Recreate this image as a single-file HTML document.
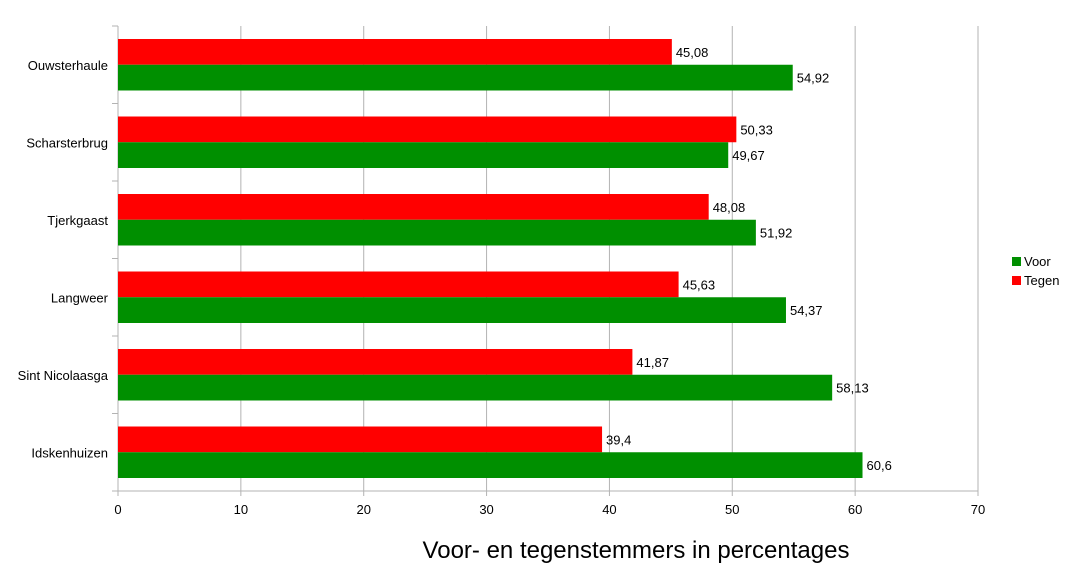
<!DOCTYPE html>
<html><head><meta charset="utf-8"><style>
html,body{margin:0;padding:0;background:#fff;}
svg{display:block;font-family:"Liberation Sans",sans-serif;}
</style></head><body>
<svg id="chart" width="1073" height="582"></svg>
<script>
const categories=["Ouwsterhaule","Scharsterbrug","Tjerkgaast","Langweer","Sint Nicolaasga","Idskenhuizen"];
const voor=[54.92,49.67,51.92,54.37,58.13,60.6];
const tegen=[45.08,50.33,48.08,45.63,41.87,39.4];
const ticks=[0,10,20,30,40,50,60,70];
const NS="http://www.w3.org/2000/svg";
const svg=document.getElementById('chart');
const X0=118,X1=978,Y0=26,Y1=491,XMAX=70;
const xs=v=>X0+(v/XMAX)*(X1-X0);
const band=(Y1-Y0)/categories.length;
function mk(t,a,p){const e=document.createElementNS(NS,t);for(const k in a)e.setAttribute(k,a[k]);(p||svg).appendChild(e);return e;}
const fmt=v=>String(v).replace('.',',');
// gridlines
ticks.forEach(t=>{
  const g=mk('line',{x1:xs(t),x2:xs(t),y1:Y0,y2:Y1+5,stroke:'#b3b3b3','stroke-width':1});
  
  
  const l=mk('text',{x:xs(t),y:Y1+23,'text-anchor':'middle','font-size':13,fill:'#000'});
  l.textContent=t;
  
  
});
mk('line',{x1:X0-5,x2:X1,y1:Y1,y2:Y1,stroke:'#b3b3b3'});
mk('line',{x1:X0,x2:X0,y1:Y0,y2:Y1,stroke:'#b3b3b3'});
for(let i=0;i<=categories.length;i++){
  mk('line',{x1:X0-6,x2:X0,y1:Y0+i*band,y2:Y0+i*band,stroke:'#b3b3b3'});
}
const bh=25.75;
categories.forEach((c,i)=>{
  const cy=Y0+band*(i+0.5);
  const l=mk('text',{x:108,y:cy+5,'text-anchor':'end','font-size':13,fill:'#000'});
  l.textContent=c;
  
  
  const r=mk('rect',{x:X0,y:cy-bh,width:xs(tegen[i])-X0,height:bh,fill:'#ff0000'});
  
  
  const g=mk('rect',{x:X0,y:cy,width:xs(voor[i])-X0,height:bh,fill:'#008f00'});
  
  
  const t1=mk('text',{x:xs(tegen[i])+4,y:cy-bh/2+5,'font-size':13,fill:'#000'});
  t1.textContent=fmt(tegen[i]);
  
  
  const t2=mk('text',{x:xs(voor[i])+4,y:cy+bh/2+5,'font-size':13,fill:'#000'});
  t2.textContent=fmt(voor[i]);
  
  
});
// legend
const lg=mk('g',{});


mk('rect',{x:1012,y:257,width:9,height:9,fill:'#008f00'},lg);
const lv=mk('text',{x:1024,y:266,'font-size':13,fill:'#000'},lg);lv.textContent='Voor';


mk('rect',{x:1012,y:276,width:9,height:9,fill:'#ff0000'},lg);
const lt=mk('text',{x:1024,y:285,'font-size':13,fill:'#000'},lg);lt.textContent='Tegen';


const ti=mk('text',{x:636,y:558,'text-anchor':'middle','font-size':24,fill:'#000'});
ti.textContent='Voor- en tegenstemmers in percentages';


</script>
</body></html>
